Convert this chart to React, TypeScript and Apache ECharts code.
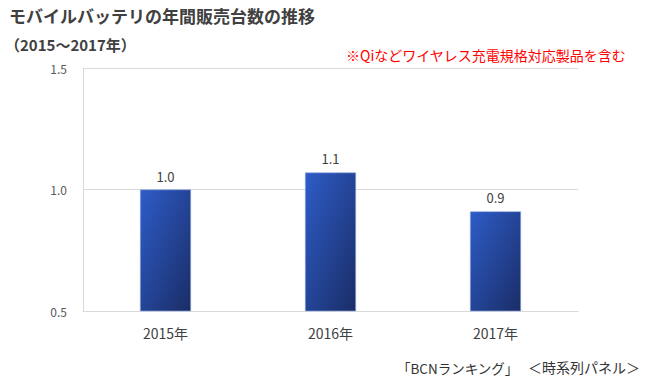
import React, { useEffect, useRef } from "react";
import * as echarts from "echarts";

const categories = ["2015年", "2016年", "2017年"];
const values = [1.0, 1.07, 0.91];
const yTicks = { min: 0.5, max: 1.5, interval: 0.5 };

const titleText = "モバイルバッテリの年間販売台数の推移";
const subtitleText = "（2015～2017年）";
const noteText = "※Qiなどワイヤレス充電規格対応製品を含む";
const sourceText1 = "「BCNランキング」";
const sourceText2 = "＜時系列パネル＞";

const FONT = "'Noto Sans CJK JP', 'Noto Sans', sans-serif";

export default function App() {
  const ref = useRef<HTMLDivElement>(null);
  useEffect(() => {
    if (!ref.current) return;
    const chart = echarts.init(ref.current, null, { renderer: "svg" });
    chart.setOption({
      animation: false,
      backgroundColor: "#ffffff",
      textStyle: { fontFamily: FONT },
      grid: { left: 83, right: 72, top: 68, bottom: 77 },
      graphic: [
        {
          type: "text",
          left: 9,
          top: 7,
          style: { text: titleText, font: `bold 17px ${FONT}`, fill: "#404040" },
        },
        {
          type: "text",
          left: 5,
          top: 37,
          style: { text: subtitleText, font: `bold 15px ${FONT}`, fill: "#404040" },
        },
        {
          type: "text",
          left: 346,
          top: 48,
          style: { text: noteText, font: `14px ${FONT}`, fill: "#ff0000" },
        },
        {
          type: "text",
          left: 397,
          top: 361,
          style: { text: sourceText1, font: `13.5px ${FONT}`, fill: "#333333" },
        },
        {
          type: "text",
          right: 10,
          top: 360,
          style: { text: sourceText2, font: `14px ${FONT}`, fill: "#333333" },
        },
      ],
      xAxis: {
        type: "category",
        data: categories,
        axisLine: { show: true, lineStyle: { color: "#d9d9d9", width: 1 } },
        axisTick: { show: false },
        axisLabel: { color: "#404040", fontSize: 14, margin: 15, fontFamily: FONT },
      },
      yAxis: {
        type: "value",
        min: yTicks.min,
        max: yTicks.max,
        interval: yTicks.interval,
        axisLine: { show: true, lineStyle: { color: "#d9d9d9", width: 1 } },
        axisTick: { show: false },
        splitLine: { show: true, lineStyle: { color: "#d9d9d9", width: 1 } },
        axisLabel: {
          color: "#595959",
          fontSize: 12,
          margin: 16,
          fontFamily: FONT,
          formatter: (v: number) => v.toFixed(1),
        },
      },
      series: [
        {
          type: "bar",
          data: values,
          barWidth: 51,
          itemStyle: {
            color: new echarts.graphic.LinearGradient(0, 0, 1, 1, [
              { offset: 0, color: "#2e5cc8" },
              { offset: 1, color: "#1a2d66" },
            ]),
            borderColor: "#8fa8e0",
            borderWidth: 0.6,
          },
          label: {
            show: true,
            position: "top",
            distance: 7,
            color: "#404040",
            fontSize: 13,
            fontFamily: FONT,
            formatter: (p: any) => Number(p.value).toFixed(1),
          },
        },
      ],
    });
    return () => chart.dispose();
  }, []);
  return (
    <div
      ref={ref}
      style={{ position: "fixed", left: 0, top: 0, width: 650, height: 388 }}
    />
  );
}
